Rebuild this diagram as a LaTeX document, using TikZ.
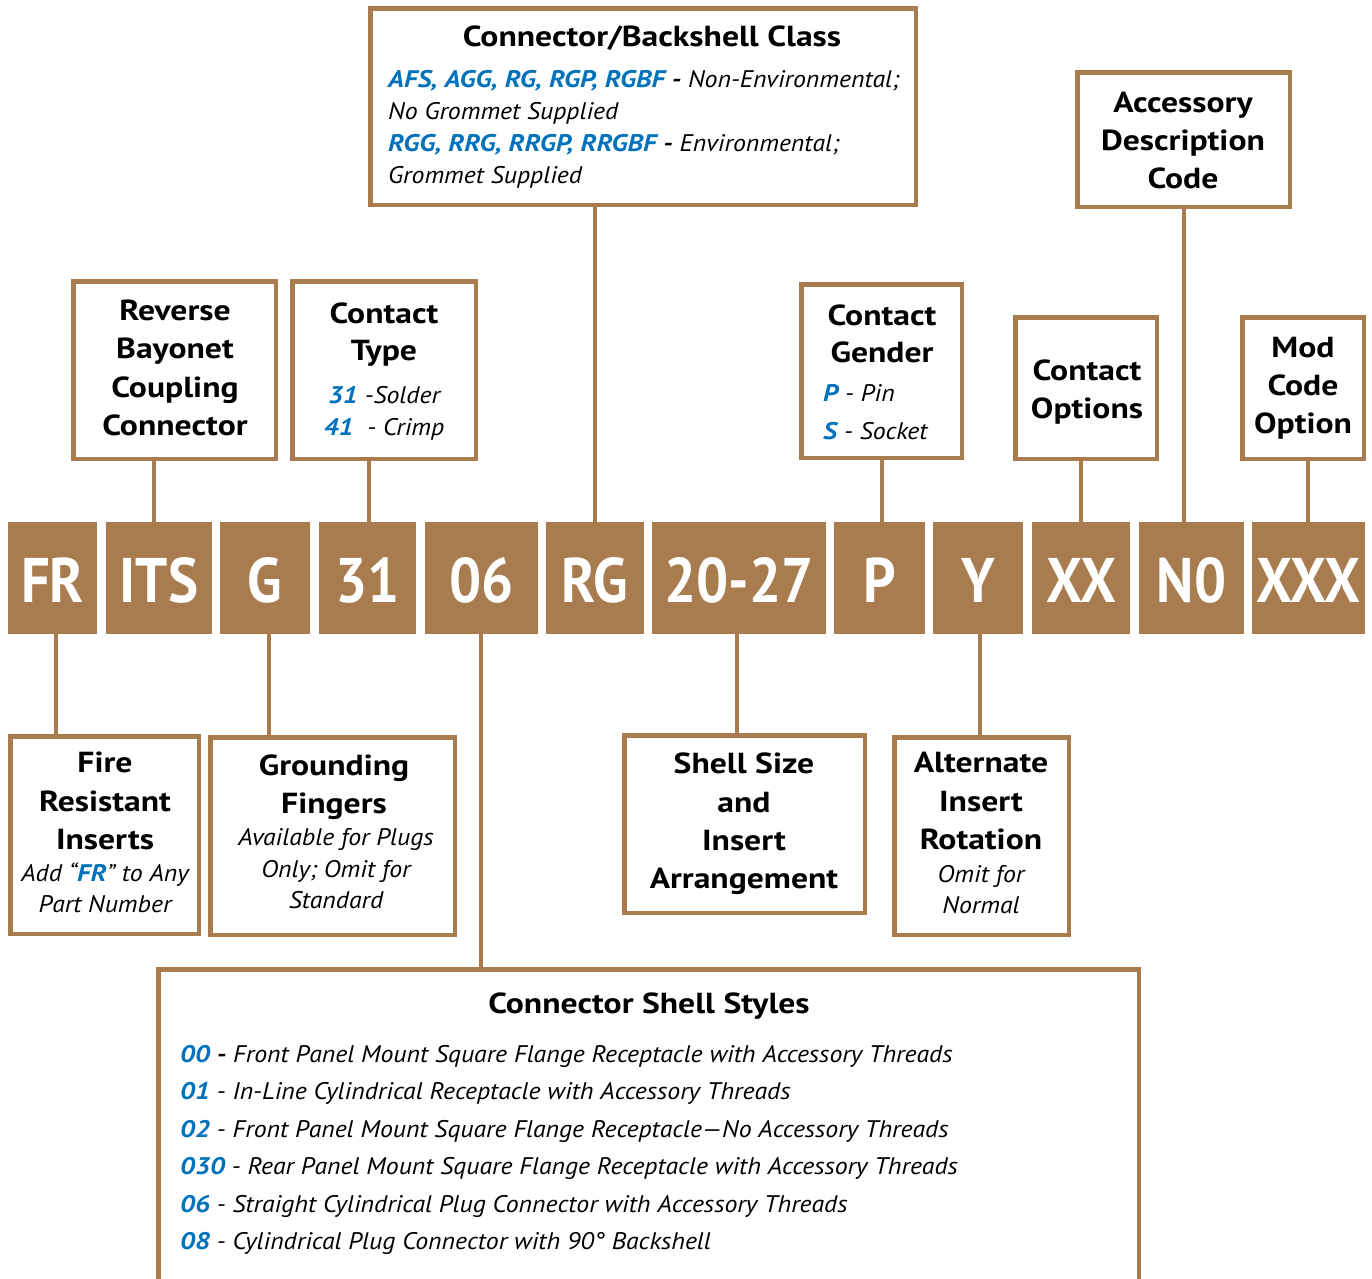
\documentclass[tikz,border=0pt]{standalone}
\usepackage{fontspec}
\setmainfont{PT Sans}[BoldFeatures={FakeStretch=1.16}, ItalicFeatures={FakeStretch=1.075}, BoldItalicFeatures={FakeStretch=1.14}]
\newfontfamily\codefam{PT Sans}[BoldFeatures={FakeStretch=0.9}]
\definecolor{brn}{RGB}{169,124,80}
\definecolor{blu}{RGB}{0,114,188}
\newcommand\myhd{\fontsize{29}{34}\selectfont\bfseries}
\newcommand\myit{\fontsize{24}{28}\selectfont\itshape}
\newcommand\mycode{\codefam\fontsize{63}{70}\selectfont\bfseries}
\newcommand\bl[1]{\textcolor{blu}{\bfseries #1}}
\begin{document}
\begin{tikzpicture}[x=1pt,y=-1pt,
  box/.style={draw=brn, line width=4.5pt, inner sep=0pt, outer sep=0pt},
  codebox/.style={fill=brn, draw=none, minimum height=112pt, inner sep=0pt, outer sep=0pt,
    text=white, font=\mycode, text height=48pt, text depth=0pt},
  hd/.style={anchor=base, font=\myhd, inner sep=0pt},
  tx/.style={anchor=base, font=\myit, inner sep=0pt},
  txl/.style={anchor=base west, font=\myit, inner sep=0pt},
  conn/.style={draw=brn, line width=4pt}]
\useasboundingbox[fill=white] (0,0) rectangle (1372,1278);

% code boxes
\node[codebox, minimum width=89pt]  (cFR)   at (52.5,578)  {FR};
\node[codebox, minimum width=106pt] (cITS)  at (159,578)   {ITS};
\node[codebox, minimum width=90pt]  (cG)    at (265,578)   {G};
\node[codebox, minimum width=97pt]  (c31)   at (367.5,578) {31};
\node[codebox, minimum width=113pt] (c06)   at (481.5,578) {06};
\node[codebox, minimum width=98pt]  (cRG)   at (595,578)   {RG};
\node[codebox, minimum width=174pt] (c2027) at (739,578)   {20-27};
\node[codebox, minimum width=91pt]  (cP)    at (879.5,578) {P};
\node[codebox, minimum width=90pt]  (cY)    at (978,578)   {Y};
\node[codebox, minimum width=98pt]  (cXX)   at (1081,578)  {XX};
\node[codebox, minimum width=105pt] (cN0)   at (1191.5,578){N0};
\node[codebox, minimum width=113pt] (cXXX)  at (1308.5,578){XXX};

% description boxes
\node[box, minimum width=545.5pt, minimum height=196.5pt] (cls)   at (643,106.5) {};
\node[box, minimum width=212.5pt, minimum height=134.5pt] (acc)   at (1183.5,139.5) {};
\node[box, minimum width=202.5pt, minimum height=177.5pt] (rev)   at (174.5,370) {};
\node[box, minimum width=183.5pt, minimum height=177.5pt] (ctype) at (384,370) {};
\node[box, minimum width=160.5pt, minimum height=173.5pt] (gen)   at (881.5,371) {};
\node[box, minimum width=141.5pt, minimum height=141.5pt] (opt)   at (1086,388) {};
\node[box, minimum width=121.5pt, minimum height=141.5pt] (mod)   at (1303,388) {};
\node[box, minimum width=188.5pt, minimum height=197.5pt] (fire)  at (104.5,835) {};
\node[box, minimum width=244.5pt, minimum height=197.5pt] (gnd)   at (332.5,836) {};
\node[box, minimum width=240.5pt, minimum height=177.5pt] (shell) at (744.5,824) {};
\node[box, minimum width=174.5pt, minimum height=197.5pt] (alt)   at (981.5,836) {};
\node[box, minimum width=980.5pt, minimum height=400pt]   (sty)   at (648.5,1169.25) {};

% connector x positions
\coordinate (xFR) at (56,0);   \coordinate (xITS) at (154,0);
\coordinate (xG) at (269,0);   \coordinate (x31) at (369,0);
\coordinate (x06) at (481,0);  \coordinate (xRG) at (595,0);
\coordinate (x2027) at (737,0);\coordinate (xP) at (882,0);
\coordinate (xY) at (980,0);   \coordinate (xXX) at (1081,0);
\coordinate (xN0) at (1184,0); \coordinate (xXXX) at (1308,0);

\draw[conn] (cFR.south -| xFR) -- (fire.north -| xFR);
\draw[conn] (rev.south -| xITS) -- (cITS.north -| xITS);
\draw[conn] (cG.south -| xG) -- (gnd.north -| xG);
\draw[conn] (ctype.south -| x31) -- (c31.north -| x31);
\draw[conn] (c06.south -| x06) -- (sty.north -| x06);
\draw[conn] (cls.south -| xRG) -- (cRG.north -| xRG);
\draw[conn] (c2027.south -| x2027) -- (shell.north -| x2027);
\draw[conn] (gen.south -| xP) -- (cP.north -| xP);
\draw[conn] (cY.south -| xY) -- (alt.north -| xY);
\draw[conn] (opt.south -| xXX) -- (cXX.north -| xXX);
\draw[conn] (acc.south -| xN0) -- (cN0.north -| xN0);
\draw[conn] (mod.south -| xXXX) -- (cXXX.north -| xXXX);

% texts: connector/backshell class
\node[hd]  (cls1) at (652,46) {Connector/Backshell Class};
\node[txl] (cls2) at (388,87) {\bl{AFS, AGG, RG, RGP, RGBF} {\bfseries -} Non-Environmental;};
\node[txl] (cls3) at (388,119) {No Grommet Supplied};
\node[txl] (cls4) at (388,151) {\bl{RGG, RRG, RRGP, RRGBF} {\bfseries -} Environmental;};
\node[txl] (cls5) at (388,183) {Grommet Supplied};
% accessory
\node[hd] (acc1) at (1183,112) {Accessory};
\node[hd] (acc2) at (1183,150) {Description};
\node[hd] (acc3) at (1183,188) {Code};
% reverse
\node[hd] (rev1) at (175,320) {Reverse};
\node[hd] (rev2) at (175,358) {Bayonet};
\node[hd] (rev3) at (175,397) {Coupling};
\node[hd] (rev4) at (175,435) {Connector};
% contact type
\node[hd] (ct1) at (384,323) {Contact};
\node[hd] (ct2) at (384,360) {Type};
\node[tx] (ct3) at (384,403) {\bl{31} -Solder};
\node[tx] (ct4) at (384,435) {\bl{41}\ \ - Crimp};
% gender
\node[hd]  (ge1) at (882,325) {Contact};
\node[hd]  (ge2) at (882,362) {Gender};
\node[txl] (ge3) at (823,401) {\bl{P} - Pin};
\node[txl] (ge4) at (823,439) {\bl{S} - Socket};
% options
\node[hd] (op1) at (1087,380) {Contact};
\node[hd] (op2) at (1087,418) {Options};
% mod
\node[hd] (mo1) at (1303,357) {Mod};
\node[hd] (mo2) at (1303,395) {Code};
\node[hd] (mo3) at (1303,433) {Option};
% fire
\node[hd] (fi1) at (105,772) {Fire};
\node[hd] (fi2) at (105,811) {Resistant};
\node[hd] (fi3) at (105,849) {Inserts};
\node[tx] (fi4) at (105,881) {Add “\bl{FR}” to Any};
\node[tx] (fi5) at (105,912) {Part Number};
% grounding
\node[hd] (gn1) at (334,775) {Grounding};
\node[hd] (gn2) at (334,813) {Fingers};
\node[tx] (gn3) at (336,845) {Available for Plugs};
\node[tx] (gn4) at (336,877) {Only; Omit for};
\node[tx] (gn5) at (336,908) {Standard};
% shell
\node[hd] (sh1) at (744,773) {Shell Size};
\node[hd] (sh2) at (744,812) {and};
\node[hd] (sh3) at (744,850) {Insert};
\node[hd] (sh4) at (744,888) {Arrangement};
% alternate
\node[hd] (al1) at (981,772) {Alternate};
\node[hd] (al2) at (981,811) {Insert};
\node[hd] (al3) at (981,849) {Rotation};
\node[tx] (al4) at (981,882) {Omit for};
\node[tx] (al5) at (981,913) {Normal};
% shell styles
\node[hd]  (st0) at (649,1013) {Connector Shell Styles};
\node[txl] (st1) at (180,1062)   {\bl{00} {\bfseries -} Front Panel Mount Square Flange Receptacle with Accessory Threads};
\node[txl] (st2) at (180,1099.5) {\bl{01} - In-Line Cylindrical Receptacle with Accessory Threads};
\node[txl] (st3) at (180,1137)   {\bl{02} - Front Panel Mount Square Flange Receptacle—No Accessory Threads};
\node[txl] (st4) at (180,1174.5) {\bl{030} - Rear Panel Mount Square Flange Receptacle with Accessory Threads};
\node[txl] (st5) at (180,1212)   {\bl{06} - Straight Cylindrical Plug Connector with Accessory Threads};
\node[txl] (st6) at (180,1249.5) {\bl{08} - Cylindrical Plug Connector with 90° Backshell};
\end{tikzpicture}
\end{document}
